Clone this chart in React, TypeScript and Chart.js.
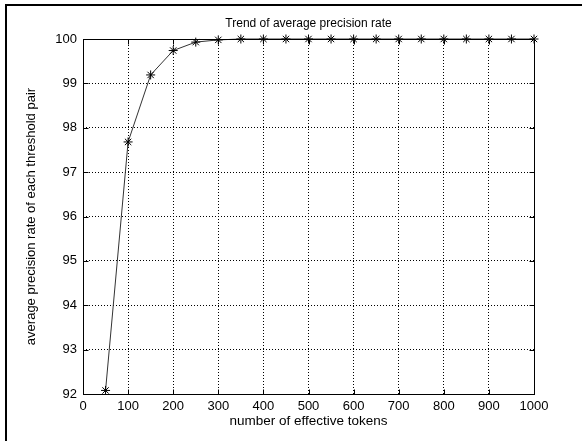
import React, { useEffect, useRef } from "react";
import { Chart, registerables } from "chart.js";

Chart.register(...registerables);

const tokenCounts = [50, 100, 150, 200, 250, 300, 350, 400, 450, 500, 550, 600, 650, 700, 750, 800, 850, 900, 950, 1000];
const precisionRates = [92.08, 97.68, 99.19, 99.74, 99.93, 99.98, 100, 100, 100, 100, 100, 100, 100, 100, 100, 100, 100, 100, 100, 100];
const xTickMin = 0;
const xTickMax = 1000;
const xTickStep = 100;
const yTickMin = 92;
const yTickMax = 100;
const yTickStep = 1;
const chartTitle = "Trend of average precision rate";
const xAxisTitle = "number of effective tokens";
const yAxisTitle = "average precision rate of each threshold pair";

const FONT = "'Liberation Sans', Arial, sans-serif";

const boxPlugin = {
  id: "matlabBox",
  afterDraw(chart: any) {
    const { ctx, chartArea } = chart;
    const xs = chart.scales.x;
    const ys = chart.scales.y;
    ctx.save();
    ctx.strokeStyle = "#000";
    ctx.lineWidth = 1;
    ctx.setLineDash([]);
    const l = Math.round(chartArea.left) + 0.5;
    const r = Math.round(chartArea.right) + 0.5;
    const t = Math.round(chartArea.top) + 0.5;
    const b = Math.round(chartArea.bottom) + 0.5;
    ctx.strokeRect(l, t, r - l, b - t);
    const len = 5;
    ctx.beginPath();
    xs.ticks.forEach((tk: any) => {
      const px = Math.round(xs.getPixelForValue(tk.value)) + 0.5;
      ctx.moveTo(px, b);
      ctx.lineTo(px, b - len);
      ctx.moveTo(px, t);
      ctx.lineTo(px, t + len);
    });
    ys.ticks.forEach((tk: any) => {
      const py = Math.round(ys.getPixelForValue(tk.value)) + 0.5;
      ctx.moveTo(l, py);
      ctx.lineTo(l + len, py);
      ctx.moveTo(r, py);
      ctx.lineTo(r - len, py);
    });
    ctx.stroke();
    // title centred over the plot area
    ctx.fillStyle = "#000";
    ctx.font = `12px ${FONT}`;
    ctx.textAlign = "center";
    ctx.textBaseline = "middle";
    ctx.fillText(chartTitle, (chartArea.left + chartArea.right) / 2, 24);
    ctx.restore();
  },
};

export default function App() {
  const ref = useRef<HTMLCanvasElement | null>(null);

  useEffect(() => {
    if (!ref.current) return;
    const chart = new Chart(ref.current, {
      type: "line",
      data: {
        datasets: [
          {
            data: tokenCounts.map((x, i) => ({ x, y: precisionRates[i] })),
            borderColor: "#333",
            borderWidth: 1,
            pointStyle: "star",
            pointRadius: 4.5,
            pointBorderColor: "#000",
            pointBackgroundColor: "#000",
            pointBorderWidth: 1,
            tension: 0,
            clip: false as any,
          },
        ],
      },
      options: {
        animation: false,
        responsive: false,
        events: [],
        layout: { padding: { top: 39, right: 48, bottom: 0, left: 0 } },
        plugins: {
          legend: { display: false },
          tooltip: { enabled: false },
          title: { display: false },
        },
        scales: {
          x: {
            type: "linear",
            min: xTickMin,
            max: xTickMax,
            afterFit: (s: any) => {
              s.height = 47;
            },
            ticks: {
              stepSize: xTickStep,
              color: "#000",
              padding: 5,
              maxRotation: 0,
              font: { family: FONT, size: 13 },
              callback: (v: any) => String(v),
            },
            grid: {
              color: "#000",
              lineWidth: 1,
              drawTicks: false,
            },
            border: { display: false, dash: [1, 2] },
            title: {
              display: true,
              text: xAxisTitle,
              color: "#000",
              font: { family: FONT, size: 13.5 },
              padding: { top: 0, bottom: 12 },
            },
          },
          y: {
            type: "linear",
            min: yTickMin,
            max: yTickMax,
            afterFit: (s: any) => {
              s.width = 83;
            },
            ticks: {
              stepSize: yTickStep,
              color: "#000",
              padding: 6,
              font: { family: FONT, size: 13 },
              callback: (v: any) => String(v),
            },
            grid: {
              color: "#000",
              lineWidth: 1,
              drawTicks: false,
            },
            border: { display: false, dash: [1, 2] },
            title: {
              display: true,
              text: yAxisTitle,
              color: "#000",
              font: { family: FONT, size: 13 },
              padding: { top: 24, bottom: 0 },
            },
          },
        },
      },
      plugins: [boxPlugin],
    });
    return () => chart.destroy();
  }, []);

  return (
    <div style={{ position: "fixed", left: 0, top: 0, width: 582, height: 441, background: "#fff" }}>
      <canvas ref={ref} width={582} height={441} style={{ position: "absolute", left: 0, top: 0, width: 582, height: 441 }} />
      <div
        style={{
          position: "absolute",
          left: 5,
          top: 4,
          width: 577,
          height: 437,
          borderTop: "2px solid #000",
          borderLeft: "2px solid #000",
          boxSizing: "border-box",
          pointerEvents: "none",
        }}
      />
    </div>
  );
}
